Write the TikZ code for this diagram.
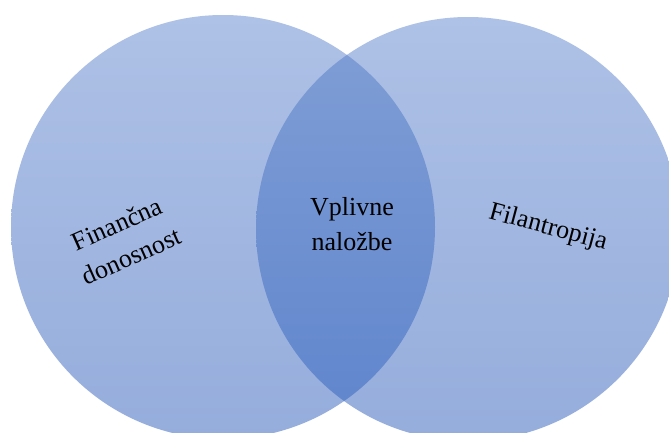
\documentclass[tikz,border=0pt]{standalone}
\usepackage{fontspec}
\setmainfont{Liberation Serif}
\definecolor{circtop}{HTML}{AEC1E6}
\definecolor{circbot}{HTML}{95ADDC}
\definecolor{lenstop}{HTML}{819FD6}
\definecolor{lensbot}{HTML}{5E84CC}
\tikzset{
  vennlabel/.style={align=center, text=black, font=\fontsize{26}{35}\selectfont, inner sep=0pt},
  circshade/.style={top color=circtop, bottom color=circbot, draw=none},
  lensshade/.style={top color=lenstop, bottom color=lensbot, draw=none}
}
\begin{document}
\begin{tikzpicture}[x=1pt,y=1pt]
\useasboundingbox (0,0) rectangle (669,432);
\clip (0,0) rectangle (669,432);
\fill[white] (0,0) rectangle (669,432);
\coordinate (cl) at (223,205);
\coordinate (cr) at (468,203);
\shade[circshade] (cl) circle (212);
\shade[circshade] (cr) circle (212);
\begin{scope}
  \clip (cl) circle (212);
  \shade[lensshade] (cr) circle (212);
\end{scope}
\node[vennlabel, rotate=24] (fin) at (124,192) {Finančna\\donosnost};
\node[vennlabel] (vpl) at (352,208) {Vplivne\\naložbe};
\node[vennlabel, rotate=-15] (fil) at (548,204) {Filantropija};
\end{tikzpicture}
\end{document}
